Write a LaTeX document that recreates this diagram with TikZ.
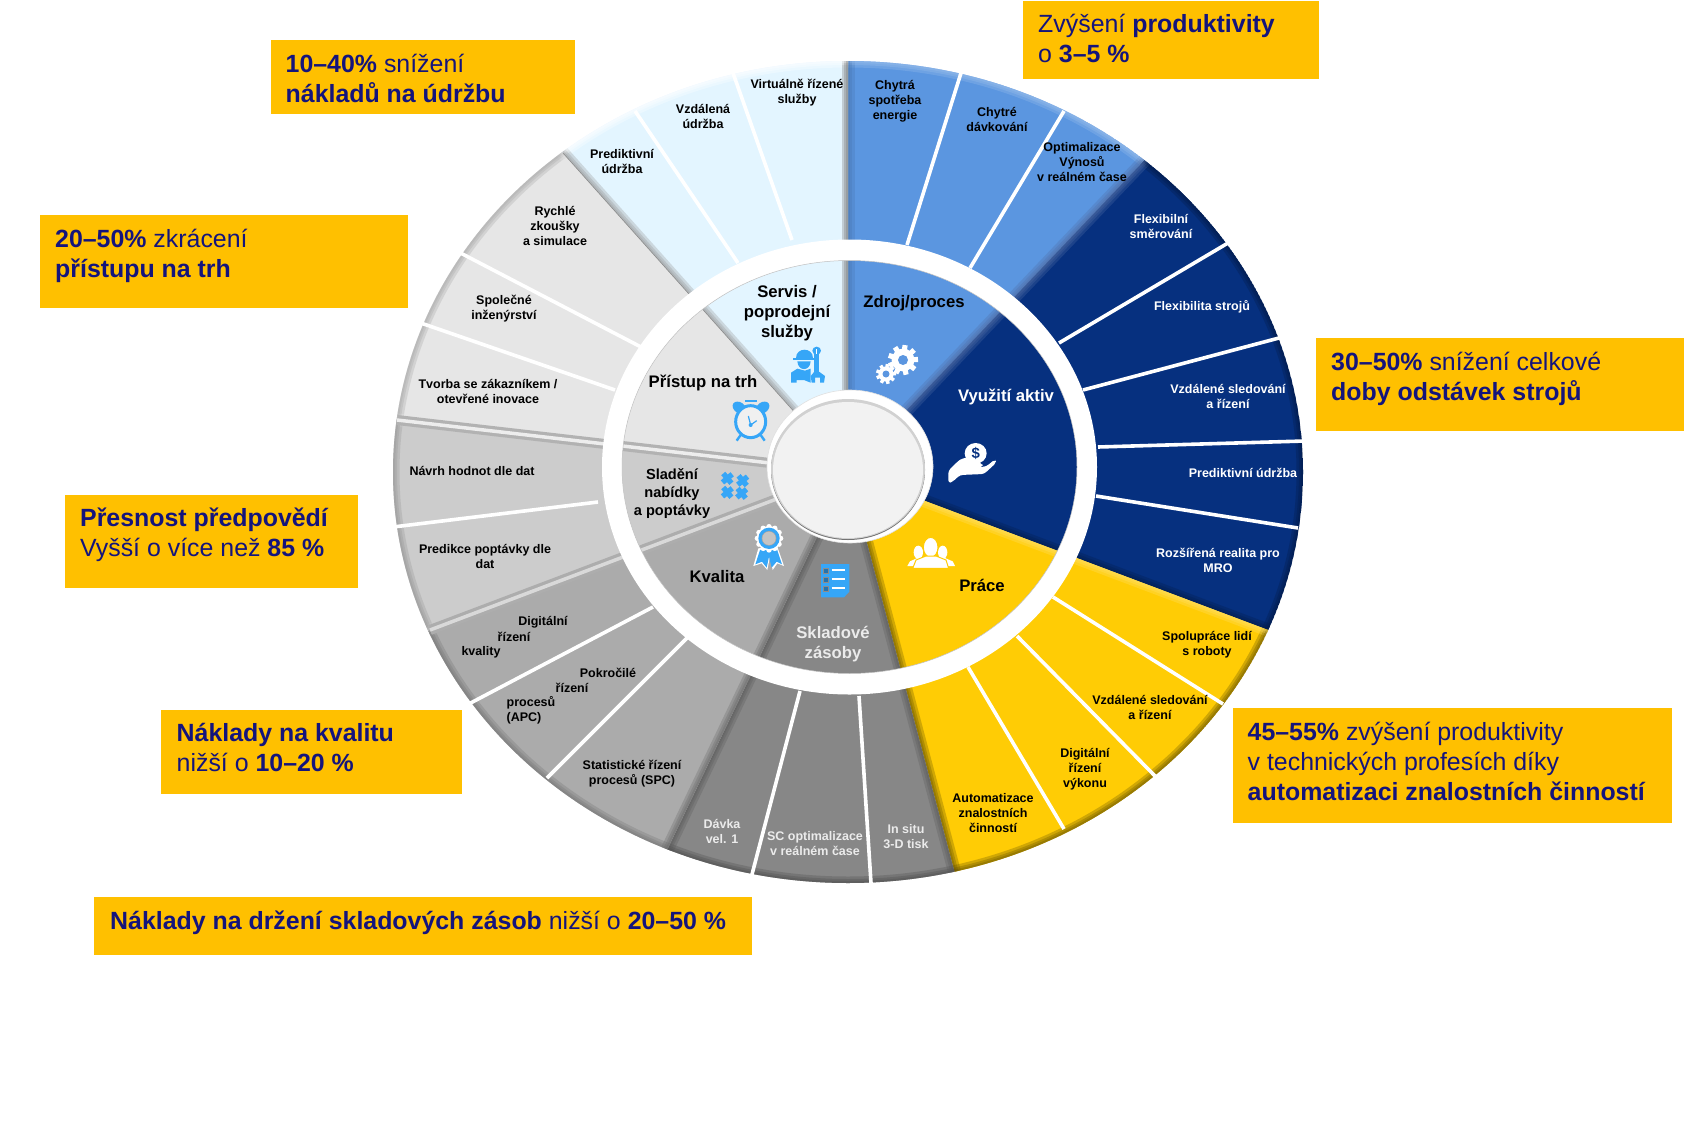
\documentclass[tikz,border=0pt]{standalone}
\usepackage{fontspec}
\setmainfont{Liberation Sans}
\usetikzlibrary{calc}
\definecolor{cbox}{HTML}{FFC000}
\definecolor{cnavy}{HTML}{14147C}
\definecolor{cservis}{HTML}{E3F5FF}
\definecolor{czdroj}{HTML}{5B96E0}
\definecolor{cvyuz}{HTML}{06307F}
\definecolor{cprace}{HTML}{FFCC05}
\definecolor{csklad}{HTML}{878787}
\definecolor{ckval}{HTML}{ABABAB}
\definecolor{cslad}{HTML}{CCCCCC}
\definecolor{cprist}{HTML}{E6E6E6}
\definecolor{cicon}{HTML}{36A6F7}
\tikzset{
  lab/.style={font=\bfseries\fontsize{12.5}{15}\selectfont,align=center,inner sep=0pt,text=black},
  labw/.style={lab,text=white},
  labg/.style={lab,text=white!92!black},
  big/.style={font=\bfseries\fontsize{16.7}{20}\selectfont,align=center,inner sep=0pt,text=black},
  boxbg/.style={fill=cbox,draw=none},
  boxtext/.style={font=\fontsize{24.9}{30}\selectfont,anchor=base west,inner sep=0pt,text=cnavy},
  divider/.style={draw=white,line width=3.6pt},
  ridgeout/.style={draw=#1,line width=10pt},
  ridgein/.style={draw=#1,line width=3.5pt},
}
\newcommand\secwedge[6]{%
\begin{scope}
\clip (O) -- ($(O)!1.5!(#1)$) -- ($(O)!1.5!(#2)$) -- cycle;
\clip (O) ellipse [x radius=455,y radius=411];
\fill[#3] (O) ellipse [x radius=455,y radius=411];
\foreach \w in {13,8,4}{%
  \draw[draw=#4,line width=\w pt,opacity=.3] (O) ellipse [x radius=455,y radius=411];
  \draw[draw=#5,line width=\w pt,opacity=.3] (O) -- ($(O)!1.5!(#1)$);
  \draw[draw=#6,line width=\w pt,opacity=.3] (O) -- ($(O)!1.5!(#2)$);
}
\end{scope}}
\newcommand\gearicon[5]{% x,y,R,hole,bg
\begin{scope}[shift={(#1,#2)}]
\fill[white] (0,0) circle [radius=#3*.76];
\foreach \a in {0,40,...,320}{%
  \fill[white,rotate=\a+12] (-#3*.17,0) rectangle (#3*.17,#3);
}
\fill[#5] (0,0) circle [radius=#4];
\end{scope}}
\newcommand\puzzlepiece[2]{%
\begin{scope}[shift={(#1,#2)},rotate=40]
\fill[cicon] (-19,-8) rectangle (19,8);
\fill[cicon] (-8,-19) rectangle (8,19);
\end{scope}}
\begin{document}
\begin{tikzpicture}[x=1pt,y=-1pt]
\useasboundingbox (0,0) rectangle (1689,1143);
\fill[white] (0,0) rectangle (1689,1143);
\coordinate (O) at (848,472);
\coordinate (RC) at (849.5,467);
\coordinate (P1) at (848,61);
\coordinate (P2) at (1145,160);
\coordinate (P3) at (1268,630);
\coordinate (P4) at (954,870);
\coordinate (P5) at (668,848);
\coordinate (P6) at (430,630);
\coordinate (P7) at (397,420);
\coordinate (P8) at (563,153);
% sectors
\secwedge{P1}{P2}{czdroj}{czdroj!60!white}{czdroj!80!black}{cvyuz!70!white}
\secwedge{P2}{P3}{cvyuz}{cvyuz!55!black}{cvyuz!70!white}{cvyuz!60!black}
\secwedge{P3}{P4}{cprace}{cprace!40!black}{cprace!60!white}{cprace!40!black}
\secwedge{P4}{P5}{csklad}{black!70}{black!65}{black!65}
\secwedge{P5}{P6}{ckval}{black!55}{black!60}{ckval}
\secwedge{P6}{P7}{cslad}{black!42}{cslad}{cslad}
\secwedge{P7}{P8}{cprist}{black!35}{cprist}{cprist}
\secwedge{P8}{P1}{cservis}{white}{black!42}{black!55}
% thin line on the Servis side of the market-access boundary
\draw[black!45,line width=.6pt] (P8) -- (O);
% ridges between the grey sectors
\begin{scope}
\clip (O) ellipse [x radius=455,y radius=411];
\draw[ridgeout=black!30] (P7) -- (O);
\draw[ridgein=white!93!black] (P7) -- (O);
\draw[ridgeout=black!32] (P6) -- (O);
\draw[ridgein=white!85!black] (P6) -- (O);
\end{scope}
% white dividers
\draw[divider] (733,73) -- (792,240);
\draw[divider] (635,111) -- (738,263);
\draw[divider] (961,73) -- (907,245);
\draw[divider] (1064,111) -- (970,268);
\draw[divider] (1228,243) -- (1059,343);
\draw[divider] (1279,338) -- (1083,390);
\draw[divider] (1305,441) -- (1098,447);
\draw[divider] (1298,528) -- (1096,496);
\draw[divider] (1223,704) -- (1053,597);
\draw[divider] (1155,776) -- (1017,636);
\draw[divider] (1064,829) -- (968,667);
\draw[divider] (871,883) -- (859,696);
\draw[divider] (750,882) -- (800,691);
\draw[divider] (547,778) -- (687,638);
\draw[divider] (463,707) -- (653,607);
\draw[divider] (393,527) -- (598,502);
\draw[divider] (415,321) -- (615,390);
\draw[divider] (449,247) -- (641,347);
% white ring
\fill[white,even odd rule] (RC) ellipse [x radius=247.5,y radius=227.5] (RC) ellipse [x radius=227.5,y radius=206.5];
\draw[black!25,line width=.5pt] (RC) ellipse [x radius=227.5,y radius=206.5];
% hub
\coordinate (HC) at (850,466.5);
\fill[white] (HC) ellipse [x radius=83,y radius=76.5];
\draw[black!12,line width=.6pt] (HC) ellipse [x radius=83,y radius=76.5];
\coordinate (HI) at (848,470);
\fill[black!55] (HI) ellipse [x radius=77,y radius=70];
\fill[black!18] ($(HI)+(0,-1)$) ellipse [x radius=77,y radius=70];
\fill[white!95!black] (HI) ellipse [x radius=75,y radius=68];
% gears
\gearicon{903}{360}{15}{5}{czdroj}
\gearicon{886}{374}{10}{3.5}{czdroj}
% hand with coin
\begin{scope}[shift={(880,420)},scale=1/3]
\fill[white] (287,100) ellipse [x radius=33,y radius=31];
\node[font=\bfseries\fontsize{15}{15}\selectfont,text=cvyuz,inner sep=0pt] (coin) at (287,100) {\$};
\fill[white,rounded corners=3pt] (205,190) -- (205,152) -- (240,118) -- (262,112) -- (305,130) -- (310,140) -- (272,142) -- (318,140) -- (345,118) -- (349,128) -- (312,162) -- (240,165) -- (218,185) -- cycle;
\end{scope}
% people
\begin{scope}[shift={(880,420)},scale=1/3]
\fill[white] (115,397) ellipse [x radius=14,y radius=20];
\fill[white] (188,397) ellipse [x radius=14,y radius=20];
\fill[white] (82,438) -- (90,424) -- (112,414) -- (125,414) -- (125,438) -- cycle;
\fill[white] (225,438) -- (218,424) -- (195,414) -- (180,414) -- (180,438) -- cycle;
\fill[white,draw=cprace,line width=1pt] (152,382) ellipse [x radius=22,y radius=30];
\fill[white,draw=cprace,line width=1pt] (98,445) -- (108,420) -- (138,408) -- (168,408) -- (198,420) -- (206,445) -- cycle;
\end{scope}
% clipboard
\begin{scope}[shift={(620,330)},scale=1/3]
\fill[cicon] (603,702) -- (688,702) -- (688,785) -- (672,802) -- (603,802) -- cycle;
\foreach \yy in {720,748,775}{%
  \draw[white,line width=1.8pt] (635,\yy) -- (676,\yy);
  \draw[black!45,fill=cicon!70!black,line width=.5pt] (611,\yy-5) rectangle (625,\yy+9);
}
\end{scope}
% rosette
\begin{scope}[shift={(620,330)},scale=1/3]
\fill[white] (415,655) -- (400,708) -- (425,700) -- (442,720) -- (450,680) -- (458,720) -- (472,700) -- (492,708) -- (472,650) -- cycle;
\fill[cicon] (420,660) -- (406,703) -- (426,695) -- (440,713) -- (447,680) -- (455,713) -- (470,695) -- (486,703) -- (470,655) -- cycle;
\foreach \a in {0,30,...,330}{%
  \fill[white] (447,625) ++(\a:35) circle [radius=8];
}
\fill[white] (447,625) circle [radius=37];
\fill[cicon] (447,625) circle [radius=32];
\fill[black!35] (447,625) circle [radius=22];
\fill[ckval!70!white] (447,625) circle [radius=20];
\end{scope}
% puzzle
\begin{scope}[shift={(620,330)},scale=1/3]
\puzzlepiece{322}{445}
\puzzlepiece{368}{452}
\puzzlepiece{322}{487}
\puzzlepiece{365}{490}
\end{scope}
% clock
\begin{scope}[shift={(620,330)},scale=1/3]
\fill[cicon,rotate around={-35:(358,233)}] (358,233) ellipse [x radius=22,y radius=16];
\fill[cicon,rotate around={35:(428,233)}] (428,233) ellipse [x radius=22,y radius=16];
\draw[cicon,line width=1.5pt] (375,213) -- (410,213);
\draw[cicon,line width=2.4pt] (362,315) -- (350,332);
\draw[cicon,line width=2.4pt] (422,315) -- (434,332);
\draw[cicon,line width=3pt,fill=cprist!60!white] (392,275) ellipse [x radius=45,y radius=48];
\draw[cicon,line width=1.2pt] (392,285) -- (385,258);
\draw[cicon,line width=1.2pt] (392,285) -- (410,272);
\fill[cicon] (392,285) circle [radius=6];
\end{scope}
% worker
\begin{scope}[shift={(620,330)},scale=1/3]
\fill[cicon] (527,85) .. controls (527,50) and (580,50) .. (580,85) -- cycle;
\fill[cicon] (520,84) rectangle (585,90);
\fill[cicon] (532,94) .. controls (534,125) and (570,125) .. (572,94) -- cycle;
\fill[cicon] (513,158) -- (513,128) -- (532,116) -- (555,122) -- (572,116) -- (572,158) -- (552,150) -- (530,150) -- (530,158) -- cycle;
\fill[cicon] (590,62) ellipse [x radius=13,y radius=12];
\fill[cicon] (583,65) rectangle (597,135);
\fill[cicon] (572,138) -- (583,125) -- (597,125) -- (615,138) -- (612,158) -- (600,158) -- (600,143) -- (585,143) -- (585,158) -- (575,158) -- cycle;
\fill[white] (588,58) rectangle (592,72);
\end{scope}
% outer labels
\node[lab] (l1) at (797,92.5) {Virtuálně řízené\\služby};
\node[lab] (l2) at (703,116) {Vzdálená\\údržba};
\node[lab] (l3) at (622,161) {Prediktivní\\údržba};
\node[lab] (l4) at (895,101.5) {Chytrá\\spotřeba\\energie};
\node[lab] (l5) at (997,119) {Chytré\\dávkování};
\node[lab] (l6) at (1082,162) {Optimalizace\\Výnosů\\v reálném čase};
\node[labw] (l7) at (1161,226) {Flexibilní\\směrování};
\node[labw] (l8) at (1202,306.5) {Flexibilita strojů};
\node[labw] (l9) at (1228,396.5) {Vzdálené sledování\\a řízení};
\node[labw] (l10) at (1243,472.5) {Prediktivní údržba};
\node[labw] (l11) at (1218,560) {Rozšířená realita pro\\MRO};
\node[lab] (l12) at (1207,645) {Spolupráce lidí\\s roboty};
\node[lab] (l13) at (1150,707) {Vzdálené sledování\\a řízení};
\node[lab] (l14) at (1085,769) {Digitální\\řízení\\výkonu};
\node[lab] (l15) at (993,813) {Automatizace\\znalostních\\činností};
\node[labg] (l16) at (906,837) {In situ\\3-D tisk};
\node[labg] (l17) at (815,844) {SC optimalizace\\v reálném čase};
\node[labg] (l18) at (722,831) {Dávka\\vel. 1};
\node[lab] (l19) at (632,773.5) {Statistické řízení\\procesů (SPC)};
\node[lab] (l20a) at (608,673) {Pokročilé};
\node[lab] (l20b) at (572,688) {řízení};
\node[lab] (l20c) at (531,703) {procesů};
\node[lab] (l20d) at (524,718) {(APC)};
\node[lab] (l21a) at (543,622) {Digitální};
\node[lab] (l21b) at (514,637) {řízení};
\node[lab] (l21c) at (481,652) {kvality};
\node[lab] (l22) at (485,556) {Predikce poptávky dle\\dat};
\node[lab] (l23) at (472,470.5) {Návrh hodnot dle dat};
\node[lab] (l24) at (488,391.5) {Tvorba se zákazníkem /\\otevřené inovace};
\node[lab] (l25) at (504,309) {Společné\\inženýrství};
\node[lab] (l26) at (555,226) {Rychlé\\zkoušky\\a simulace};
% inner labels
\node[big] (i1) at (787,313) {Servis /\\poprodejní\\služby};
\node[big] (i2) at (914,303) {Zdroj/proces};
\node[big,text=white] (i3) at (1006,397) {Využití aktiv};
\node[big] (i4) at (982,585.5) {Práce};
\node[big,text=white!92!black] (i5) at (833,644.5) {Skladové\\zásoby};
\node[big] (i6) at (717,576.5) {Kvalita};
\node[big,font=\bfseries\fontsize{14.6}{18}\selectfont] (i7) at (672,493.5) {Sladění\\nabídky\\a poptávky};
\node[big] (i8) at (703,383) {Přístup na trh};
% callout boxes
\fill[boxbg] (1023,1) rectangle (1319,79);
\node[boxtext] (b1a) at (1038,32) {Zvýšení \textbf{produktivity}};
\node[boxtext] (b1b) at (1038,62) {o \textbf{3–5 \%}};
\fill[boxbg] (271,40) rectangle (575,114);
\node[boxtext] (b2a) at (285.5,72) {\textbf{10–40\%} snížení};
\node[boxtext] (b2b) at (285.5,102) {\textbf{nákladů na údržbu}};
\fill[boxbg] (40,215) rectangle (408,308);
\node[boxtext] (b3a) at (55,247) {\textbf{20–50\%} zkrácení};
\node[boxtext] (b3b) at (55,277) {\textbf{přístupu na trh}};
\fill[boxbg] (65,495) rectangle (358,588);
\node[boxtext] (b4a) at (80,526) {\textbf{Přesnost předpovědí}};
\node[boxtext] (b4b) at (80,556) {Vyšší o více než \textbf{85 \%}};
\fill[boxbg] (161,710) rectangle (462,794);
\node[boxtext] (b5a) at (176.5,741) {\textbf{Náklady na kvalitu}};
\node[boxtext] (b5b) at (176.5,771) {nižší o \textbf{10–20 \%}};
\fill[boxbg] (94,897) rectangle (752,955);
\node[boxtext] (b6) at (110,929) {\textbf{Náklady na držení skladových zásob} nižší o \textbf{20–50 \%}};
\fill[boxbg] (1316,338) rectangle (1684,431);
\node[boxtext] (b7a) at (1331,370) {\textbf{30–50\%} snížení celkové};
\node[boxtext] (b7b) at (1331,400) {\textbf{doby odstávek strojů}};
\fill[boxbg] (1233,708) rectangle (1672,823);
\node[boxtext] (b8a) at (1247.5,740) {\textbf{45–55\%} zvýšení produktivity};
\node[boxtext] (b8b) at (1247.5,770) {v technických profesích díky};
\node[boxtext] (b8c) at (1247.5,800) {\textbf{automatizaci znalostních činností}};
\end{tikzpicture}
\end{document}
